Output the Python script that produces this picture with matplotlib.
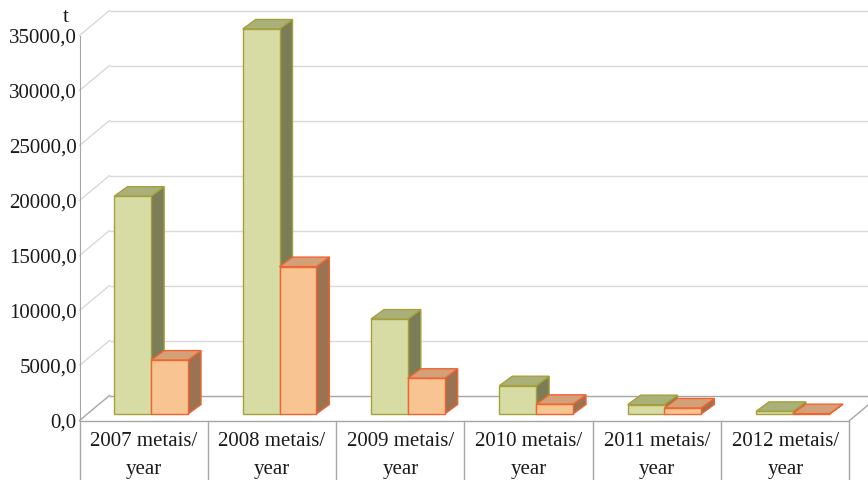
import matplotlib
matplotlib.use("Agg")
import matplotlib.pyplot as plt
from matplotlib.transforms import ScaledTranslation, IdentityTransform
from matplotlib.patches import Polygon
from matplotlib.lines import Line2D
import numpy as np

# ---------------- data ----------------
categories = ["2007 metais/\nyear", "2008 metais/\nyear", "2009 metais/\nyear",
              "2010 metais/\nyear", "2011 metais/\nyear", "2012 metais/\nyear"]
series_green = [19800, 35000, 8630, 2570, 850, 240]
series_orange = [4900, 13400, 3250, 880, 550, 30]
y_ticks = [0, 5000, 10000, 15000, 20000, 25000, 30000, 35000]
y_tick_labels = ["0,0", "5000,0", "10000,0", "15000,0", "20000,0",
                 "25000,0", "30000,0", "35000,0"]
unit_label = "t"

# ---------------- style ----------------
W, H, DPI = 868, 480, 100
FONT = ["Liberation Serif", "DejaVu Serif"]
FS = 15
green_front, green_top, green_side, green_edge = "#D7DCA5", "#AAB07A", "#7A7D56", "#A6A03C"
orange_front, orange_top, orange_side, orange_edge = "#F8C491", "#D4A078", "#9B7352", "#F06432"
grid_col = "#D9D9D9"
axis_col = "#A6A6A6"

wall_dx, wall_dy = 30, 25      # depth of floor / walls in px
bar_dx, bar_dy = 7.5, 6.5      # bar front plane offset in px
top_dx, top_dy = 13, 9.5       # bar depth in px
bar_w = 0.287

fig = plt.figure(figsize=(W / DPI, H / DPI), dpi=DPI)
fig.patch.set_facecolor("white")

x_left, x_right = 79.5, 849.5
y_base = 420.5                 # pixel from top of zero line (front)
plot_h = 385
ax = fig.add_axes([x_left / W, (H - y_base) / H, (x_right - x_left) / W, plot_h / H])
ax.set_xlim(-0.5, len(categories) - 0.5)
ax.set_ylim(0, 35000)
ax.patch.set_visible(False)
for s in ["top", "right", "bottom"]:
    ax.spines[s].set_visible(False)
ax.spines["left"].set_color(axis_col)
ax.spines["left"].set_zorder(2)

ax.set_yticks(y_ticks)
ax.set_yticklabels(y_tick_labels, fontfamily=FONT, fontsize=FS, color="#1a1a1a")
for lab in ax.get_yticklabels():
    lab.set_verticalalignment("center_baseline")
x = np.arange(len(categories))
ax.set_xticks(x)
ax.set_xticklabels(categories, fontfamily=FONT, fontsize=FS, color="#1a1a1a")
for lab in ax.get_xticklabels():
    lab.set_linespacing(1.7)
    lab.set_multialignment("center")
ax.tick_params(axis="y", length=0, pad=2)
ax.tick_params(axis="x", length=0, pad=8)

ident = IdentityTransform()

def disp(xd, yd, dx=0.0, dy=0.0):
    p = ax.transData.transform((xd, yd))
    return (p[0] + dx, p[1] + dy)

def line(p, q, color, lw=1.0, z=1):
    ax.add_line(Line2D([p[0], q[0]], [p[1], q[1]], color=color, lw=lw,
                       transform=ident, clip_on=False, zorder=z))

xmin, xmax = -0.5, len(categories) - 0.5
# back wall grid + left side wall diagonals
for v in y_ticks:
    c = axis_col if v == 0 else grid_col
    line(disp(xmin, v, wall_dx, wall_dy), disp(xmax, v, wall_dx, wall_dy), c)
    line(disp(xmin, v), disp(xmin, v, wall_dx, wall_dy), c)
# floor front edge and right edge
line(disp(xmin, 0), disp(xmax, 0), axis_col, z=2)
line(disp(xmax, 0), disp(xmax, 0, wall_dx, wall_dy), axis_col)
# table lines below
for b in np.arange(xmin, xmax + 0.01, 1.0):
    p = disp(b, 0)
    line(p, (p[0], -5), axis_col, z=2)

# bars
front_tr = ax.transData + ScaledTranslation(bar_dx / DPI, bar_dy / DPI, fig.dpi_scale_trans)
bars_g = ax.bar(x - bar_w / 2, series_green, bar_w, color=green_front, edgecolor=green_edge,
                linewidth=1.0, transform=front_tr, clip_on=False)
bars_o = ax.bar(x + bar_w / 2, series_orange, bar_w, color=orange_front, edgecolor=orange_edge,
                linewidth=1.0, transform=front_tr, clip_on=False)

def faces(rect, topc, sidec, edgec, z):
    x0 = rect.get_x(); x1 = x0 + rect.get_width(); h = rect.get_height()
    fl = disp(x0, h, bar_dx, bar_dy)
    fr = disp(x1, h, bar_dx, bar_dy)
    br = disp(x1, 0, bar_dx, bar_dy)
    top = [fl, fr, (fr[0] + top_dx, fr[1] + top_dy), (fl[0] + top_dx, fl[1] + top_dy)]
    side = [br, fr, (fr[0] + top_dx, fr[1] + top_dy), (br[0] + top_dx, br[1] + top_dy)]
    ax.add_patch(Polygon(side, closed=True, facecolor=sidec, edgecolor=edgec, lw=1.0,
                         transform=ident, clip_on=False, zorder=z))
    ax.add_patch(Polygon(top, closed=True, facecolor=topc, edgecolor=edgec, lw=1.0,
                         transform=ident, clip_on=False, zorder=z + 1))
    rect.set_zorder(z + 2)

for i in range(len(categories)):
    base = 10 + 6 * i
    faces(bars_g[i], green_top, green_side, green_edge, base)
    faces(bars_o[i], orange_top, orange_side, orange_edge, base + 3)

fig.text(66 / W, 1 - 17 / H, unit_label, fontfamily=FONT, fontsize=FS, color="#1a1a1a",
         ha="center", va="center")

fig.savefig("out.png", dpi=DPI, facecolor="white")
